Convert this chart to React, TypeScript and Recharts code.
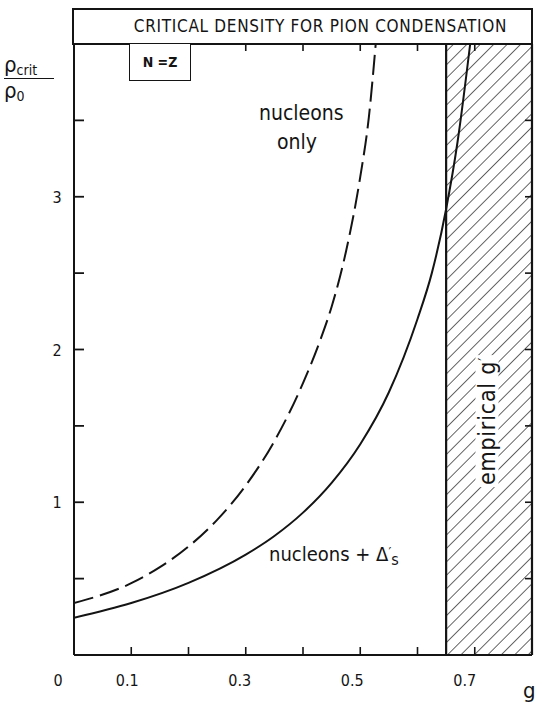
import React from 'react';
import { LineChart, Line, XAxis, YAxis, ReferenceArea, ReferenceLine } from 'recharts';

// g' values and rho_crit / rho_0
const nucleonsOnlyX = [0, 0.1, 0.15, 0.2, 0.25, 0.3, 0.35, 0.4, 0.43, 0.45, 0.475, 0.5, 0.515, 0.527];
const nucleonsOnlyY = [0.34, 0.47, 0.575, 0.71, 0.885, 1.11, 1.4, 1.78, 2.06, 2.28, 2.64, 3.13, 3.52, 4.0];

const withDeltasX = [0, 0.1, 0.2, 0.3, 0.35, 0.4, 0.45, 0.5, 0.55, 0.6, 0.625, 0.65, 0.67, 0.692];
const withDeltasY = [0.244, 0.34, 0.472, 0.657, 0.779, 0.932, 1.127, 1.38, 1.72, 2.2, 2.5, 2.92, 3.36, 4.0];

const empiricalRange = [0.65, 0.8];

const bottomTicks = [0, 0.1, 0.2, 0.3, 0.4, 0.5, 0.6, 0.7];
const bottomLabelValues = [0, 0.1, 0.3, 0.5, 0.7];
const bottomLabels = ['0', '0.1', '0.3', '0.5', '0.7'];
const topTicks = [0.3, 0.4, 0.5, 0.6, 0.7];
const yTicks = [0.5, 1, 1.5, 2, 2.5, 3, 3.5];
const yLabelValues = [1, 2, 3];
const yLabels = ['1', '2', '3'];

const nucleonsOnly = nucleonsOnlyX.map((x, i) => ({ x, y: nucleonsOnlyY[i] }));
const withDeltas = withDeltasX.map((x, i) => ({ x, y: withDeltasY[i] }));

const INK = '#141414';
const FONT = '"DejaVu Sans Condensed", "DejaVu Sans", sans-serif';

const BottomTick = (props: any) => {
  const { x, y, payload } = props;
  const v = payload.value;
  const i = bottomLabelValues.indexOf(v);
  // hand lettered labels sit a little left of their ticks
  const dx = v === 0 ? -16 : -3 - v * 10;
  return (
    <g>
      {v > 0 && <line x1={x} x2={x} y1={y} y2={y - 8} stroke={INK} strokeWidth={1.6} />}
      {i >= 0 && (
        <text x={x + dx} y={y + 31} textAnchor="middle" fontSize={16}
          fontFamily={FONT} fill={INK}>{bottomLabels[i]}</text>
      )}
    </g>
  );
};

const TopTick = (props: any) => {
  const { x, y } = props;
  return <line x1={x} x2={x} y1={y} y2={y + 7} stroke={INK} strokeWidth={1.6} />;
};

const LeftTick = (props: any) => {
  const { x, y, payload } = props;
  const i = yLabelValues.indexOf(payload.value);
  return (
    <g>
      <line x1={x} x2={x + 10} y1={y} y2={y} stroke={INK} strokeWidth={1.8} />
      {i >= 0 && (
        <text x={x - 17} y={y + 6} textAnchor="middle" fontSize={16} fontFamily={FONT} fill={INK}>
          {yLabels[i]}
        </text>
      )}
    </g>
  );
};

const RightTick = (props: any) => {
  const { x, y } = props;
  return <line x1={x} x2={x - 7} y1={y} y2={y} stroke={INK} strokeWidth={1.6} />;
};

const abs = (left: number, top: number, extra: React.CSSProperties = {}): React.CSSProperties => ({
  position: 'absolute', left, top, fontFamily: FONT, color: INK, lineHeight: 1, whiteSpace: 'nowrap', ...extra,
});

export default function App() {
  return (
    <div style={{ position: 'absolute', left: 0, top: 0, width: 536, height: 704, background: '#fff' }}>
      <svg width={0} height={0} style={{ position: 'absolute' }}>
        <defs>
          <pattern id="hatch" width={9.5} height={9.5} patternUnits="userSpaceOnUse" patternTransform="rotate(45)">
            <line x1={0} y1={-2} x2={0} y2={12} stroke={INK} strokeWidth={1.3} />
          </pattern>
        </defs>
      </svg>

      <LineChart width={536} height={704} data={withDeltas}
        margin={{ top: 43, left: 73, right: 3, bottom: 48 }}>
        <XAxis xAxisId="b" dataKey="x" type="number" domain={[0, 0.8]} ticks={bottomTicks} interval={0}
          height={1} tickSize={0} tickMargin={0} tick={<BottomTick />} tickLine={false}
          axisLine={{ stroke: INK, strokeWidth: 2.2 }} allowDataOverflow />
        <XAxis xAxisId="t" orientation="top" dataKey="x" type="number" domain={[0, 0.8]} ticks={topTicks}
          interval={0} height={1} tickSize={0} tickMargin={0} tick={<TopTick />} tickLine={false}
          axisLine={{ stroke: INK, strokeWidth: 2.2 }} allowDataOverflow />
        <YAxis yAxisId="l" type="number" domain={[0, 4]} ticks={yTicks} interval={0} width={1}
          tickSize={0} tickMargin={0} tick={<LeftTick />} tickLine={false}
          axisLine={{ stroke: INK, strokeWidth: 2 }} allowDataOverflow />
        <YAxis yAxisId="r" orientation="right" type="number" domain={[0, 4]} ticks={yTicks} interval={0}
          width={1} tickSize={0} tickMargin={0} tick={<RightTick />} tickLine={false}
          axisLine={{ stroke: INK, strokeWidth: 2.2 }} allowDataOverflow />
        <ReferenceArea xAxisId="b" yAxisId="l" x1={empiricalRange[0]} x2={empiricalRange[1]} y1={0} y2={4}
          fill="url(#hatch)" fillOpacity={1} stroke="none" />
        <ReferenceLine xAxisId="b" yAxisId="l" x={empiricalRange[0]} stroke={INK} strokeWidth={2.2} />
        <Line xAxisId="b" yAxisId="l" data={nucleonsOnly} dataKey="y" type="monotone" stroke={INK}
          strokeWidth={2} strokeDasharray="20 7" dot={false} activeDot={false} isAnimationActive={false} />
        <Line xAxisId="b" yAxisId="l" data={withDeltas} dataKey="y" type="monotone" stroke={INK}
          strokeWidth={2} dot={false} activeDot={false} isAnimationActive={false} />
      </LineChart>

      {/* title box */}
      <div style={abs(72, 8, {
        width: 461, height: 37, boxSizing: 'border-box', border: `2px solid ${INK}`, background: '#fff',
        display: 'flex', alignItems: 'center', justifyContent: 'center', paddingLeft: 36, fontSize: 17,
        letterSpacing: 0.7,
      })}>
        CRITICAL DENSITY FOR PION CONDENSATION
      </div>

      {/* N = Z box */}
      <div style={abs(129, 43, {
        width: 62, height: 38, boxSizing: 'border-box', border: `1.6px solid ${INK}`, background: '#fff',
        display: 'flex', alignItems: 'center', justifyContent: 'center', fontSize: 14, fontWeight: 700,
      })}>
        N =Z
      </div>

      {/* y axis label */}
      <div style={abs(4, 54, { fontSize: 22 })}>
        ρ<span style={{ fontSize: 14, position: 'relative', top: 3 }}>crit</span>
      </div>
      <div style={abs(4, 78, { width: 50, height: 0, borderTop: `1.6px solid ${INK}` })} />
      <div style={abs(4, 80, { fontSize: 22 })}>
        ρ<span style={{ fontSize: 14, position: 'relative', top: 3 }}>0</span>
      </div>

      {/* x axis label */}
      <div style={abs(523, 680, { fontSize: 22 })}>g</div>

      {/* curve labels */}
      <div style={abs(259, 103, { fontSize: 21 })}>nucleons</div>
      <div style={abs(277, 132, { fontSize: 21 })}>only</div>
      <div style={abs(269, 544, { fontSize: 20 })}>
        nucleons + Δ<span style={{ position: 'relative', top: -4, fontSize: 14 }}>′</span>
        <span style={{ position: 'relative', top: 4, fontSize: 16 }}>s</span>
      </div>

      {/* empirical g' */}
      <div style={abs(487, 421, {
        fontSize: 23, letterSpacing: 0.8, background: '#fff', padding: '0 2px',
        transform: 'translate(-50%, -50%) rotate(-90deg)',
      })}>
        empirical g<span style={{ position: 'relative', top: -5, fontSize: 15 }}>′</span>
      </div>
    </div>
  );
}
